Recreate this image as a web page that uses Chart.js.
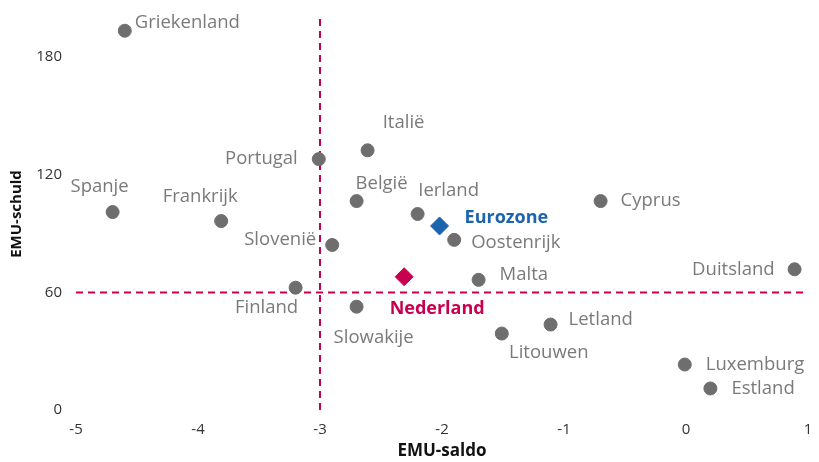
<!DOCTYPE html>
<html>
<head>
<meta charset="utf-8">
<script src="https://cdn.jsdelivr.net/npm/chart.js@4.4.1/dist/chart.umd.min.js"></script>
<style>
  html, body { margin: 0; padding: 0; background: #fff; }
  #wrap { width: 819px; height: 462px; }
</style>
</head>
<body>
<div id="wrap"><canvas id="chart"></canvas></div>
<script>
// Landen: EMU-saldo (x) en EMU-schuld (y)
const landen = ['Griekenland', 'Spanje', 'Frankrijk', 'Portugal', 'Italië', 'België', 'Slovenië', 'Ierland',
  'Oostenrijk', 'Cyprus', 'Malta', 'Duitsland', 'Finland', 'Slowakije', 'Litouwen', 'Letland', 'Luxemburg', 'Estland'];
const saldo = [-4.6, -4.7, -3.81, -3.01, -2.61, -2.7, -2.9, -2.2, -1.9, -0.7, -1.7, 0.89, -3.2, -2.7, -1.51, -1.11, -0.01, 0.2];
const schuld = [193.5, 101, 96.4, 128, 132.5, 106.6, 84.2, 100, 86.8, 106.6, 66.4, 71.8, 62.4, 52.7, 39, 43.6, 23.2, 11];

const eurozone = { naam: 'Eurozone', saldo: -2.02, schuld: 93.9 };
const nederland = { naam: 'Nederland', saldo: -2.31, schuld: 68 };

// Referentielijnen (3% tekort, 60% schuld)
const grensSaldo = -3;
const grensSchuld = 60;

const xTicks = [-5, -4, -3, -2, -1, 0, 1];
const yTicks = [0, 60, 120, 180];

// Plaats van de labels t.o.v. het punt: [dx, dy, uitlijning]
const labelPlaats = {
  'Griekenland': [10, -8, 'left'],
  'Spanje': [-13, -25, 'center'],
  'Frankrijk': [-21, -24, 'center'],
  'Portugal': [-21, 0, 'right'],
  'Italië': [36, -28, 'center'],
  'België': [25, -17, 'center'],
  'Slovenië': [-16, -5, 'right'],
  'Ierland': [31, -23, 'center'],
  'Oostenrijk': [17, 3, 'left'],
  'Cyprus': [20, 0, 'left'],
  'Malta': [21, -5, 'left'],
  'Duitsland': [-20, 0, 'right'],
  'Finland': [-29, 20, 'center'],
  'Slowakije': [17, 31, 'center'],
  'Litouwen': [47, 19, 'center'],
  'Letland': [18, -5, 'left'],
  'Luxemburg': [21, 0, 'left'],
  'Estland': [21, 0, 'left'],
  'Eurozone': [25, -8, 'left'],
  'Nederland': [33, 32, 'center']
};

const rood = '#c8004f';
const blauw = '#1c64ad';
const grijs = '#6e6e6e';
const fontNaam = "'Open Sans', 'Noto Sans', sans-serif";

const labelPlugin = {
  id: 'labels',
  afterDatasetsDraw(chart) {
    const ctx = chart.ctx;
    ctx.save();
    ctx.textBaseline = 'middle';
    chart.data.datasets.forEach((ds, i) => {
      if (!ds.namen) return;
      const meta = chart.getDatasetMeta(i);
      meta.data.forEach((el, j) => {
        const naam = ds.namen[j];
        const p = labelPlaats[naam] || [12, 0, 'left'];
        ctx.fillStyle = ds.labelKleur;
        ctx.font = ds.labelFont;
        ctx.textAlign = p[2];
        ctx.fillText(naam, el.x + p[0], el.y + p[1]);
      });
    });
    ctx.restore();
  }
};

const ctx = document.getElementById('chart');
new Chart(ctx, {
  type: 'scatter',
  data: {
    datasets: [
      {
        data: saldo.map((v, i) => ({ x: v, y: schuld[i] })),
        namen: landen,
        labelKleur: '#7a7a7a',
        labelFont: '18.5px ' + fontNaam,
        backgroundColor: grijs,
        borderColor: grijs,
        pointRadius: 6.5,
        pointHoverRadius: 6.5,
        order: 1
      },
      {
        data: [{ x: eurozone.saldo, y: eurozone.schuld }],
        namen: [eurozone.naam],
        labelKleur: blauw,
        labelFont: 'bold 18px ' + fontNaam,
        pointStyle: 'rectRot',
        backgroundColor: blauw,
        borderColor: blauw,
        pointRadius: 9,
        order: 1
      },
      {
        data: [{ x: nederland.saldo, y: nederland.schuld }],
        namen: [nederland.naam],
        labelKleur: rood,
        labelFont: 'bold 18px ' + fontNaam,
        pointStyle: 'rectRot',
        backgroundColor: rood,
        borderColor: rood,
        pointRadius: 9,
        order: 1
      },
      {
        data: [{ x: xTicks[0], y: grensSchuld }, { x: xTicks[xTicks.length - 1], y: grensSchuld }],
        showLine: true,
        borderColor: rood,
        borderWidth: 2,
        borderDash: [7, 5],
        pointRadius: 0,
        order: 3
      },
      {
        data: [{ x: grensSaldo, y: 0 }, { x: grensSaldo, y: 200 }],
        showLine: true,
        borderColor: rood,
        borderWidth: 2,
        borderDash: [7, 5],
        pointRadius: 0,
        order: 3
      }
    ]
  },
  options: {
    responsive: true,
    maintainAspectRatio: false,
    animation: false,
    layout: { padding: { top: 18, right: 11, left: 0, bottom: 0 } },
    scales: {
      x: {
        type: 'linear',
        min: -5,
        max: 1,
        grid: { display: false, drawTicks: false },
        border: { display: false },
        afterFit(axis) {
          axis.height = 52;
          axis.paddingLeft = 0;
          axis.paddingRight = 0;
        },
        afterBuildTicks(axis) { axis.ticks = xTicks.map(v => ({ value: v })); },
        ticks: { color: '#333', font: { size: 15, family: fontNaam }, padding: 11 },
        title: {
          display: true, text: 'EMU-saldo', color: '#111',
          font: { size: 17, weight: 'bold', family: fontNaam }, padding: { top: 0, bottom: 1 }
        }
      },
      y: {
        type: 'linear',
        min: 0,
        max: 200,
        grid: { display: false, drawTicks: false },
        border: { display: false },
        afterFit(axis) {
          axis.width = 76;
          axis.paddingTop = 0;
          axis.paddingBottom = 0;
        },
        afterBuildTicks(axis) { axis.ticks = yTicks.map(v => ({ value: v })); },
        ticks: { color: '#333', font: { size: 15, family: fontNaam }, padding: 14 },
        title: {
          display: true, text: 'EMU-schuld', color: '#111',
          font: { size: 15, weight: 'bold', family: fontNaam }, padding: { top: 8, bottom: 0 }
        }
      }
    },
    plugins: {
      legend: { display: false },
      tooltip: { enabled: false }
    }
  },
  plugins: [labelPlugin]
});
</script>
</body>
</html>
